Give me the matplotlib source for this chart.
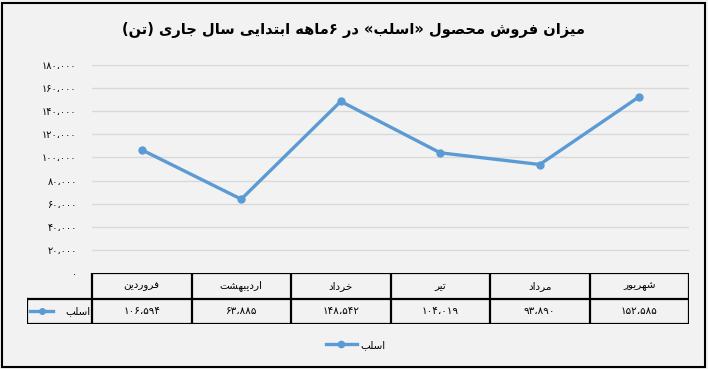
import re
import matplotlib
matplotlib.use("Agg")
import matplotlib.pyplot as plt
from matplotlib.lines import Line2D
from matplotlib.patches import Rectangle

# داده‌ها
months = ["فروردین", "اردیبهشت", "خرداد", "تیر", "مرداد", "شهریور"]
sales = [106594, 63885, 148542, 104019, 93890, 152585]
series_name = "اسلب"
title = "میزان فروش محصول «اسلب» در ۶ماهه ابتدایی سال جاری (تن)"
y_ticks = [0, 20000, 40000, 60000, 80000, 100000, 120000, 140000, 160000, 180000]

# شکل‌دهی ساده حروف عربی/فارسی (matplotlib خودش این کار را نمی‌کند)
FORMS = {
    'ا': ('\uFE8D', '\uFE8E', None, None),
    'ب': ('\uFE8F', '\uFE90', '\uFE91', '\uFE92'),
    'ت': ('\uFE95', '\uFE96', '\uFE97', '\uFE98'),
    'ج': ('\uFE9D', '\uFE9E', '\uFE9F', '\uFEA0'),
    'ح': ('\uFEA1', '\uFEA2', '\uFEA3', '\uFEA4'),
    'خ': ('\uFEA5', '\uFEA6', '\uFEA7', '\uFEA8'),
    'د': ('\uFEA9', '\uFEAA', None, None),
    'ر': ('\uFEAD', '\uFEAE', None, None),
    'ز': ('\uFEAF', '\uFEB0', None, None),
    'س': ('\uFEB1', '\uFEB2', '\uFEB3', '\uFEB4'),
    'ش': ('\uFEB5', '\uFEB6', '\uFEB7', '\uFEB8'),
    'ص': ('\uFEB9', '\uFEBA', '\uFEBB', '\uFEBC'),
    'ف': ('\uFED1', '\uFED2', '\uFED3', '\uFED4'),
    'ل': ('\uFEDD', '\uFEDE', '\uFEDF', '\uFEE0'),
    'م': ('\uFEE1', '\uFEE2', '\uFEE3', '\uFEE4'),
    'ن': ('\uFEE5', '\uFEE6', '\uFEE7', '\uFEE8'),
    'ه': ('\uFEE9', '\uFEEA', '\uFEEB', '\uFEEC'),
    'و': ('\uFEED', '\uFEEE', None, None),
    'ی': ('\uFBFC', '\uFBFD', '\uFBFE', '\uFBFF'),
}
MIRROR = {'(': ')', ')': '(', '«': '»', '»': '«'}


def dual(c):
    return c in FORMS and FORMS[c][2] is not None


def fa(text):
    out = []
    i = 0
    prev = None
    while i < len(text):
        c = text[i]
        nxt = text[i + 1] if i + 1 < len(text) else None
        if c not in FORMS:
            out.append(c)
            prev = c
            i += 1
            continue
        join_prev = prev is not None and dual(prev)
        if c == 'ل' and nxt == 'ا':
            out.append('\uFEFC' if join_prev else '\uFEFB')
            prev = 'ا'
            i += 2
            continue
        join_next = dual(c) and nxt in FORMS
        iso, fin, ini, med = FORMS[c]
        if join_prev and join_next:
            out.append(med)
        elif join_prev:
            out.append(fin)
        elif join_next:
            out.append(ini)
        else:
            out.append(iso)
        prev = c
        i += 1
    s = ''.join(MIRROR.get(ch, ch) for ch in reversed(out))
    # اعداد چپ به راست می‌مانند
    return re.sub('[۰-۹،]+', lambda m: m.group(0)[::-1], s)


def fa_num(n):
    digits = str.maketrans('0123456789', '۰۱۲۳۴۵۶۷۸۹')
    return f"{n:,}".replace(',', '،').translate(digits)


W, H = 708, 369
bg = "#f2f2f2"
blue = "#5b9bd5"

fig = plt.figure(figsize=(W / 100, H / 100), dpi=100, facecolor=bg)

# ناحیه نمودار
x0, x1, ytop, ybot = 92, 689, 65, 273
ax = fig.add_axes([x0 / W, 1 - ybot / H, (x1 - x0) / W, (ybot - ytop) / H])
ax.set_facecolor(bg)
x = list(range(len(months)))
ax.plot(x, sales, color=blue, lw=2.4, marker='o', ms=5, solid_capstyle='round')
ax.set_xlim(-0.5, len(months) - 0.5)
ax.set_ylim(0, 180000)
ax.set_yticks(y_ticks)
ax.set_yticklabels([fa_num(v) for v in y_ticks], fontsize=7)
ax.tick_params(axis='y', length=0, pad=11)
ax.set_xticks([])
ax.grid(axis='y', color="#d9d9d9", lw=1)
ax.set_axisbelow(True)
for sp in ax.spines.values():
    sp.set_visible(False)

# جدول داده‌ها
lx, tb_top, tb_mid, tb_bot = 27, 273, 298, 324
col_w = (x1 - x0) / len(months)
tax = fig.add_axes([lx / W, 1 - tb_bot / H, (x1 - lx) / W, (tb_bot - tb_top) / H])
tax.set_xlim(-0.5 - (x0 - lx) / col_w, len(months) - 0.5)
tax.set_ylim(0, 2)
tax.axis('off')
left = -0.5 - (x0 - lx) / col_w
kw = dict(color='black', lw=1.6, solid_capstyle='projecting')
tax.plot([-0.5, len(months) - 0.5], [2, 2], **kw)
tax.plot([left, len(months) - 0.5], [1, 1], **kw)
tax.plot([left, len(months) - 0.5], [0, 0], **kw)
tax.plot([left, left], [0, 1], **kw)
for k in range(len(months) + 1):
    tax.plot([k - 0.5, k - 0.5], [0, 2], **kw)
for k, (m, v) in enumerate(zip(months, sales)):
    tax.text(k, 1.5, fa(m), ha='center', va='center', fontsize=7.5)
    tax.text(k, 0.5, fa_num(v), ha='center', va='center', fontsize=7.5)
tax.text(-0.5 - 2 / col_w, 0.5, fa(series_name), ha='right', va='center', fontsize=7.5)
tax.plot([left + 3 / col_w, left + 26 / col_w], [0.5, 0.5], color=blue, lw=2.4)
tax.plot([left + 15 / col_w], [0.5], 'o', color=blue, ms=4)

# عنوان
fig.text(0.5, 1 - 30 / H, fa(title), ha='center', va='center', fontsize=10.5, fontweight='bold')

# راهنما پایین
fig.add_artist(Line2D([326 / W, 357 / W], [1 - 344 / H] * 2, color=blue, lw=2.4))
fig.add_artist(Line2D([341 / W], [1 - 344 / H], color=blue, marker='o', ms=4.5))
fig.text(360 / W, 1 - 345 / H, fa(series_name), ha='left', va='center', fontsize=7.5)

# قاب بیرونی
fig.add_artist(Rectangle((1.5 / W, 2 / H), (W - 5) / W, (H - 4.5) / H, fill=False,
                         ec='black', lw=1.5, transform=fig.transFigure))

fig.savefig("out.png", dpi=100, facecolor=bg)
